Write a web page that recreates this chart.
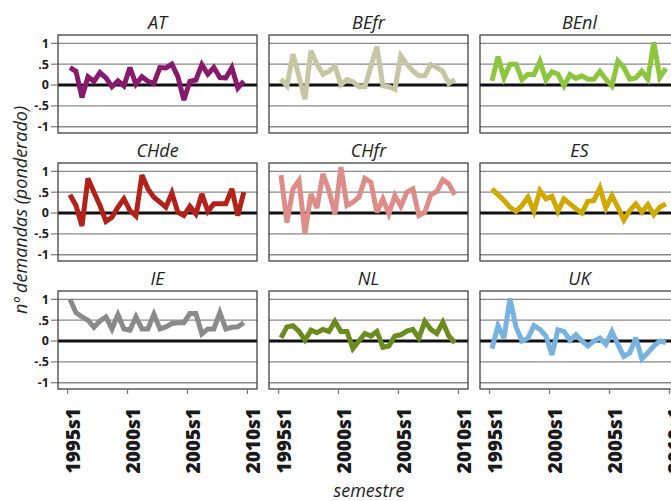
<!DOCTYPE html>
<html>
<head>
<meta charset="utf-8">
<script src="https://cdn.jsdelivr.net/npm/d3@7"></script>
<style>
  body { margin: 0; background: #fff; }
  text { font-family: "Open Sans", sans-serif; }
</style>
</head>
<body>
<div id="wrapper"></div>
<script>
// data
const countries = ["AT", "BEfr", "BEnl", "CHde", "CHfr", "ES", "IE", "NL", "UK"]
const countryColors = ["#88196d", "#c4c6a4", "#8cc63e", "#b3211b", "#dd8c88", "#d0a800", "#8a8a8a", "#6a8c1f", "#78b2e0"]

// 1995s1 .. 2009s2
const semesters = d3.range(1995, 2010).flatMap((y) => [`${y}s1`, `${y}s2`])

const atValues = [0.42, 0.33, -0.3, 0.2, 0.09, 0.3, 0.17, -0.04, 0.1, -0.02, 0.42, 0.02, 0.2, 0.09, 0.04, 0.42, 0.41, 0.5, 0.2, -0.36, 0.09, 0.12, 0.49, 0.26, 0.42, 0.18, 0.17, 0.42, -0.07, 0.09]
const befrValues = [0.14, -0.02, 0.74, 0.2, -0.34, 0.82, 0.5, 0.26, 0.33, 0.45, 0.01, 0.13, 0.08, -0.04, -0.04, 0.45, 0.92, -0.02, -0.04, -0.1, 0.7, 0.5, 0.34, 0.22, 0.22, 0.49, 0.42, 0.33, 0.04, 0.13]
const benlValues = [0.1, 0.68, 0.17, 0.5, 0.5, 0.13, 0.26, 0.25, 0.57, 0.12, 0.32, 0.26, -0.02, 0.25, 0.16, 0.22, 0.14, 0.14, 0.33, 0.14, -0.02, 0.58, 0.42, 0.14, 0.17, 0.33, 0.14, 1.02, 0.18, 0.4]
const chdeValues = [0.44, 0.18, -0.31, 0.83, 0.5, 0.18, -0.2, -0.1, 0.14, 0.34, 0.06, -0.07, 0.91, 0.58, 0.38, 0.26, 0.14, 0.48, 0.02, -0.06, 0.16, -0.02, 0.46, 0.04, 0.22, 0.22, 0.22, 0.58, -0.06, 0.5]
const chfrValues = [0.91, -0.23, 0.58, 0.78, -0.49, 0.46, 0.12, 0.94, 0.54, -0.03, 1.1, 0.18, 0.26, 0.38, 0.83, 0.74, 0.02, 0.34, -0.02, 0.42, 0.16, 0.5, 0.58, -0.06, 0.02, 0.44, 0.52, 0.8, 0.7, 0.44]
const esValues = [0.58, 0.44, 0.3, 0.14, 0.04, 0.18, 0.38, 0.04, 0.54, 0.34, 0.4, 0.04, 0.34, 0.22, 0.1, 0, 0.28, 0.3, 0.6, 0.12, 0.42, 0.14, -0.17, 0.06, 0.22, 0.02, 0.2, -0.04, 0.14, 0.22]
const ieValues = [1.0, 0.68, 0.58, 0.5, 0.33, 0.48, 0.58, 0.29, 0.63, 0.29, 0.26, 0.58, 0.29, 0.29, 0.64, 0.29, 0.34, 0.42, 0.44, 0.44, 0.66, 0.66, 0.17, 0.29, 0.29, 0.68, 0.29, 0.33, 0.34, 0.44]
const nlValues = [0.08, 0.34, 0.37, 0.23, 0.02, 0.26, 0.2, 0.28, 0.23, 0.47, 0.23, 0.23, -0.18, 0, 0.18, 0.12, 0.23, -0.15, -0.12, 0.12, 0.15, 0.24, 0.28, 0.07, 0.47, 0.28, 0.18, 0.45, 0.12, -0.04]
const ukValues = [-0.18, 0.37, 0.07, 1.02, 0.34, 0, 0.07, 0.37, 0.28, 0.12, -0.33, 0.27, 0.23, 0.02, 0.15, 0, -0.12, 0, 0.07, -0.08, 0.23, -0.08, -0.37, -0.28, 0.08, -0.43, -0.28, -0.12, 0, -0.04]

const seriesValues = [atValues, befrValues, benlValues, chdeValues, chfrValues, esValues, ieValues, nlValues, ukValues]

const yTicks = [1, 0.5, 0, -0.5, -1]
const yTickLabels = ["1", ".5", "0", "-.5", "-1"]
const xTickLabels = ["1995s1", "2000s1", "2005s1", "2010s1"]

// dimensions
const dimensions = {
  width: 671,
  height: 501,
  margin: { top: 35, left: 58 },
  panelWidth: 199,
  panelHeight: 98,
  gapX: 12,
  gapY: 30,
}

const wrapper = d3
  .select("#wrapper")
  .append("svg")
  .attr("width", dimensions.width)
  .attr("height", dimensions.height)

// scales
const semesterIndex = (label) => (+label.slice(0, 4) - 1995) * 2 + (+label.slice(5) - 1)

const xScale = d3
  .scaleLinear()
  .domain([-1.6, 31.6])
  .range([0, dimensions.panelWidth])

const yScale = d3
  .scaleLinear()
  .domain([-1.15, 1.2])
  .range([dimensions.panelHeight, 0])

const lineGenerator = d3
  .line()
  .x((d, i) => xScale(semesterIndex(semesters[i]) + 0.4))
  .y((d) => yScale(d))

countries.forEach((country, i) => {
  const col = i % 3
  const row = Math.floor(i / 3)
  const left = dimensions.margin.left + col * (dimensions.panelWidth + dimensions.gapX)
  const top = dimensions.margin.top + row * (dimensions.panelHeight + dimensions.gapY)

  const panel = wrapper.append("g").attr("transform", `translate(${left},${top})`)

  panel
    .append("text")
    .attr("x", dimensions.panelWidth / 2)
    .attr("y", -6)
    .attr("text-anchor", "middle")
    .style("font-style", "italic")
    .style("font-size", "18px")
    .attr("fill", "#222")
    .text(country)

  // grid lines
  panel
    .selectAll(".grid")
    .data(yTicks)
    .join("line")
    .attr("x1", 0)
    .attr("x2", dimensions.panelWidth)
    .attr("y1", (d) => yScale(d))
    .attr("y2", (d) => yScale(d))
    .attr("stroke", (d) => (d === 0 ? "#111" : "#8a8a8a"))
    .attr("stroke-width", (d) => (d === 0 ? 3 : 1.3))

  panel
    .append("rect")
    .attr("width", dimensions.panelWidth)
    .attr("height", dimensions.panelHeight)
    .attr("fill", "none")
    .attr("stroke", "#333")
    .attr("stroke-width", 1.2)

  panel
    .append("path")
    .attr("d", lineGenerator(seriesValues[i]))
    .attr("fill", "none")
    .attr("stroke", countryColors[i])
    .attr("stroke-width", 5)
    .attr("stroke-linejoin", "miter")
    .attr("stroke-miterlimit", 3)

  if (col === 0) {
    yTicks.forEach((tick, j) => {
      panel
        .append("line")
        .attr("x1", -7)
        .attr("x2", 0)
        .attr("y1", yScale(tick))
        .attr("y2", yScale(tick))
        .attr("stroke", "#777")
        .attr("stroke-width", 1.2)
      panel
        .append("text")
        .attr("x", -9)
        .attr("y", yScale(tick))
        .attr("dy", "0.35em")
        .attr("text-anchor", "end")
        .style("font-size", "12.5px")
        .style("font-weight", "bold")
        .attr("fill", "#222")
        .text(yTickLabels[j])
    })
  }

  if (row === 2) {
    xTickLabels.forEach((label) => {
      const x = xScale(semesterIndex(label))
      panel
        .append("line")
        .attr("x1", x)
        .attr("x2", x)
        .attr("y1", dimensions.panelHeight)
        .attr("y2", dimensions.panelHeight + 5)
        .attr("stroke", "#777")
        .attr("stroke-width", 1.2)
      panel
        .append("text")
        .attr("transform", `translate(${x + 12.5},${dimensions.panelHeight + 19}) rotate(-90)`)
        .attr("text-anchor", "end")
        .style("font-size", "19px")
        .style("font-weight", "800")
        .attr("fill", "#1a1a1a")
        .text(label)
    })
  }
})

// axis titles
wrapper
  .append("text")
  .attr("transform", "translate(27,210) rotate(-90)")
  .attr("text-anchor", "middle")
  .style("font-style", "italic")
  .style("font-size", "18px")
  .attr("fill", "#222")
  .text("nº demandas (ponderado)")

wrapper
  .append("text")
  .attr("x", 369)
  .attr("y", 497)
  .attr("text-anchor", "middle")
  .style("font-style", "italic")
  .style("font-size", "18px")
  .attr("fill", "#222")
  .text("semestre")
</script>
</body>
</html>
